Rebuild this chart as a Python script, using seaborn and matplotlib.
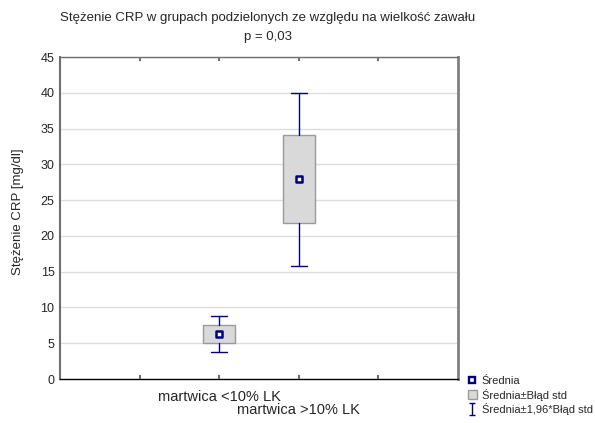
import matplotlib
matplotlib.use("Agg")
import matplotlib.pyplot as plt
import seaborn as sns
import pandas as pd
from matplotlib.lines import Line2D
from matplotlib.patches import Patch
from matplotlib.path import Path

groups = ["martwica <10% LK", "martwica >10% LK"]
positions = [1, 2]
means = [6.3, 28.0]
se_low = [5.0, 21.8]
se_high = [7.55, 34.1]
ci_low = [3.8, 15.8]
ci_high = [8.8, 40.0]
tick_labels = ["", "martwica <10% LK", "martwica >10% LK", ""]

NAVY = "#00007f"

sns.set_theme(style="white")
plt.rcParams["font.family"] = ["Liberation Sans", "DejaVu Sans"]

fig = plt.figure(figsize=(5.95, 4.23), dpi=100)
ax = fig.add_axes([60 / 595, 1 - 379 / 423, 398 / 595, 322 / 423])

stats = [
    {"label": g, "med": m, "q1": lo, "q3": hi, "whislo": wl, "whishi": wh, "fliers": []}
    for g, m, lo, hi, wl, wh in zip(groups, means, se_low, se_high, ci_low, ci_high)
]
ax.bxp(
    stats, positions=positions, widths=0.4, patch_artist=True, showfliers=False,
    boxprops=dict(facecolor="#d9d9d9", edgecolor="#9a9a9a", linewidth=1),
    whiskerprops=dict(color=NAVY, linewidth=1),
    capprops=dict(color=NAVY, linewidth=1),
    medianprops=dict(linewidth=0),
    capwidths=0.2, zorder=3,
)

df = pd.DataFrame({"pos": positions, "mean": means})
sns.scatterplot(
    data=df, x="pos", y="mean", marker="s", s=14, color="white",
    edgecolor=NAVY, linewidth=1.8, ax=ax, zorder=4, legend=False,
)

ax.set_xlim(-1, 4)
ax.set_ylim(0, 45)
ax.set_yticks(range(0, 46, 5))
ax.set_xticks([0, 1, 2, 3])
ax.set_xticklabels(tick_labels, fontsize=10.5)
ax.tick_params(axis="y", labelsize=9, length=0, pad=4)
ax.tick_params(axis="x", direction="in", length=3, top=True, bottom=True, pad=8,
               color="#555555")
# staggered category labels like the original
ax.xaxis.get_major_ticks()[2].set_pad(17)
ax.yaxis.grid(True, color="#dcdcdc", linewidth=1)
ax.set_axisbelow(True)
ax.set_xlabel("")
ax.set_ylabel("Stężenie CRP [mg/dl]", fontsize=9.5)
ax.yaxis.set_label_coords(-0.09, 0.52)

ax.spines["left"].set_color("#6e6e6e")
ax.spines["left"].set_linewidth(1.5)
ax.spines["right"].set_color("#808080")
ax.spines["right"].set_linewidth(2)
ax.spines["top"].set_color("#6e6e6e")
ax.spines["top"].set_linewidth(1)
ax.spines["bottom"].set_color("black")
ax.spines["bottom"].set_linewidth(1)

fig.text(268 / 595, 1 - 18 / 423, "Stężenie CRP w grupach podzielonych ze względu na wielkość zawału",
         ha="center", va="center", fontsize=9.5)
fig.text(268 / 595, 1 - 37 / 423, "p = 0,03", ha="center", va="center", fontsize=9.5)

ibeam = Path([(-0.5, 1), (0.5, 1), (0, 1), (0, -1), (-0.5, -1), (0.5, -1)],
             [Path.MOVETO, Path.LINETO, Path.MOVETO, Path.LINETO, Path.MOVETO, Path.LINETO])
handles = [
    Line2D([], [], linestyle="none", marker="s", markersize=4, markerfacecolor="white",
           markeredgecolor=NAVY, markeredgewidth=1.7),
    Patch(facecolor="#d9d9d9", edgecolor="#9a9a9a"),
    Line2D([], [], linestyle="none", marker=ibeam, markersize=8, color=NAVY,
           markeredgewidth=1),
]
labels = ["Średnia", "Średnia±Błąd std", "Średnia±1,96*Błąd std"]
fig.legend(handles, labels, loc="upper left", bbox_to_anchor=(468 / 595, 1 - 376 / 423),
           frameon=False, fontsize=8, handlelength=0.8, handleheight=0.9,
           handletextpad=0.45, labelspacing=0.2, borderpad=0, borderaxespad=0)

fig.savefig("out.png", dpi=100)
